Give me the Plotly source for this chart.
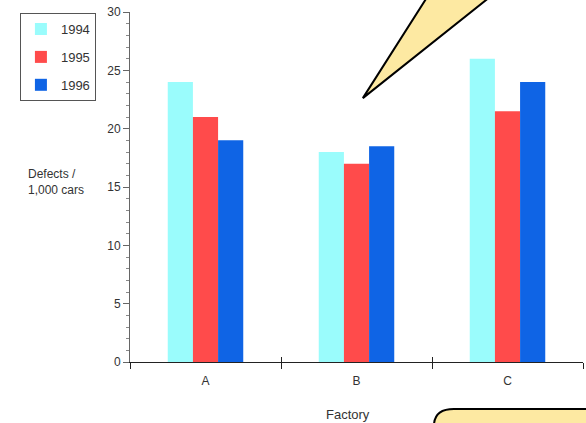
import plotly.graph_objects as go

factories = ["A", "B", "C"]
years = ["1994", "1995", "1996"]
defects_1994 = [24, 18, 26]
defects_1995 = [21, 17, 21.5]
defects_1996 = [19, 18.5, 24]
colors = ["#9AFCFC", "#FF4B4B", "#0F64E5"]
y_ticks = [0, 5, 10, 15, 20, 25, 30]

FONT = "Liberation Sans, Arial, sans-serif"
fig = go.Figure()
for i, (yr, vals) in enumerate(zip(years, [defects_1994, defects_1995, defects_1996])):
    fig.add_trace(go.Bar(x=factories, y=vals, name=yr, legendgroup=yr,
                         marker=dict(color=colors[i], line=dict(width=0))))
# invisible trace to carry the overlay axis with inward ticks
fig.add_trace(go.Scatter(x=factories, y=[0, 0, 0], xaxis="x2", mode="markers",
                         marker=dict(opacity=0), showlegend=False, hoverinfo="skip"))

fig.update_layout(
    width=586, height=423,
    margin=dict(l=130, r=3, t=12, b=61),
    paper_bgcolor="white", plot_bgcolor="white",
    font=dict(family=FONT, size=12, color="#333333"),
    barmode="group", bargap=0.5, bargroupgap=0,
    showlegend=True,
    legend=dict(x=-0.243, y=0.997, xanchor="left", yanchor="top",
                bordercolor="#555555", borderwidth=1, bgcolor="white",
                tracegroupgap=8, font=dict(size=13, color="#333333")),
    xaxis=dict(showline=True, linecolor="#222222", linewidth=1,
               ticks="outside", tickson="boundaries", ticklen=6, tickcolor="#222222",
               ticklabelstandoff=8,
               showgrid=False, zeroline=False, tickfont=dict(size=12)),
    xaxis2=dict(overlaying="x", matches="x", side="bottom", anchor="y",
                ticks="inside", tickson="boundaries", ticklen=5, tickcolor="#222222",
                showticklabels=False, showgrid=False, showline=False, zeroline=False),
    yaxis=dict(range=[0, 30], tickvals=y_ticks, showline=True, linecolor="#666666",
               ticks="outside", ticklen=6, tickcolor="#666666", showgrid=False,
               zeroline=False, tickfont=dict(size=12),
               minor=dict(dtick=1, ticks="outside", ticklen=3, tickcolor="#888888")),
)

fig.add_annotation(text="Defects /<br>1,000 cars", xref="paper", yref="paper",
                   x=-0.2296, y=0.514, xanchor="left", yanchor="middle",
                   showarrow=False, align="left", font=dict(size=12, color="#333333"))
fig.add_annotation(text="Factory", xref="paper", yref="paper",
                   x=0.481, y=-0.149, xanchor="center", yanchor="middle",
                   showarrow=False, font=dict(size=13, color="#333333"))

# callout decorations
fig.add_shape(type="path", xref="paper", yref="paper",
              path="M 0.514 0.754 L 0.666 1.063 L 0.814 1.063 Z",
              fillcolor="#FDE9A2", line=dict(color="black", width=2), layer="above")
fig.add_shape(type="path", xref="paper", yref="paper",
              path="M 0.671 -0.25 L 0.671 -0.183 Q 0.671 -0.134 0.715 -0.134 L 1.05 -0.134 L 1.05 -0.25 Z",
              fillcolor="#FDE9A2", line=dict(color="black", width=2), layer="above")

fig.write_html("out.html", config={"displayModeBar": False},
               post_script="document.body.style.margin='0';document.body.style.overflow='hidden';")
